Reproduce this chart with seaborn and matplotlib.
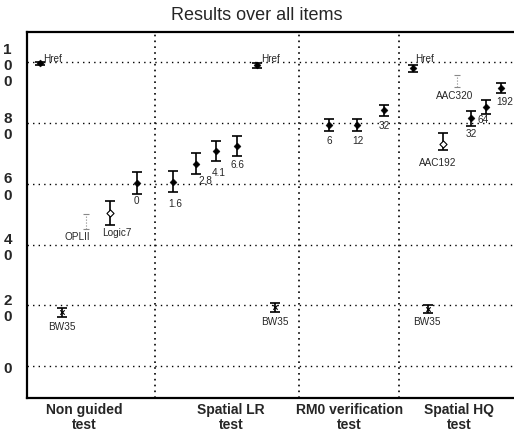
import matplotlib
matplotlib.use("Agg")
import matplotlib.pyplot as plt
import pandas as pd
import seaborn as sns

# values
labels = ["Href", "BW35", "OPLII", "Logic7", "0",
          "1.6", "2.8", "4.1", "6.6", "Href", "BW35",
          "6", "12", "32",
          "Href", "BW35", "AAC192", "AAC320", "32", "64", "192"]
position = [1.3, 3.5, 5.9, 8.3, 11.0,
            14.6, 16.9, 18.9, 21.0, 23.0, 24.8,
            30.2, 33.0, 35.7,
            38.6, 40.1, 41.6, 43.0, 44.4, 45.9, 47.4]
score = [99.7, 17.7, 47.5, 50.5, 60.3,
         60.7, 66.6, 70.8, 72.5, 99.0, 19.3,
         79.3, 79.3, 84.3,
         98.0, 18.7, 73.0, 93.8, 81.6, 85.2, 91.5]
err_low = [0.5, 1.5, 2.5, 4.0, 3.5,
           3.5, 3.5, 3.3, 3.2, 0.7, 1.5,
           2.0, 2.0, 1.8,
           1.0, 1.3, 2.0, 2.0, 2.5, 2.3, 1.7]
err_high = [0.5, 1.5, 2.5, 4.0, 3.5,
            3.5, 3.5, 3.3, 3.2, 0.7, 1.5,
            2.0, 2.0, 1.8,
            1.0, 1.3, 3.6, 2.0, 2.5, 2.3, 1.7]
kind = ["filled", "bw", "faint", "open", "filled",
        "filled", "filled", "filled", "filled", "filled", "bw",
        "filled", "filled", "filled",
        "filled", "bw", "open", "faint", "filled", "filled", "filled"]
groups = ["Non guided\ntest", "Spatial LR\ntest", "RM0 verification\ntest", "Spatial HQ\ntest"]
group_bounds = [0, 12.8, 27.2, 37.2, 48.7]
yticks = [0, 20, 40, 60, 80, 100]

# label offsets in pixels (dx, dy) - layout only
label_off = [(12, 5), (0, -14), (-9, -14), (7, -19), (-1, -17),
             (2, -21), (9, -16), (3, -21), (0, -18), (13, 7), (0, -14),
             (0, -15), (1, -15), (0, -15),
             (12, 10), (-1, -12), (-5, -18), (-2, -14), (0, -15), (-3, -12), (4, -13)]

df = pd.DataFrame({"label": labels, "x": position, "score": score,
                   "lo": err_low, "hi": err_high, "kind": kind})

sns.set_style("white")
plt.rcParams["font.family"] = ["Liberation Sans", "DejaVu Sans"]

fig = plt.figure(figsize=(5.14, 4.35), dpi=100)
ax = fig.add_axes([0.053, 0.083, 0.947, 0.841])

# grid
for y in yticks:
    ax.axhline(y, color="black", lw=1.0, ls=(0, (1, 3)), zorder=0)
for b in group_bounds[1:-1]:
    ax.axvline(b, color="black", lw=1.2, ls=(0, (1, 2.5)), zorder=0)

# error bars
for k, d in df.groupby("kind"):
    if k == "faint":
        c, lw, ls, cap = "#888888", 0.8, ":", 2.5
    else:
        c, lw, ls, cap = "black", 1.2, "-", 3.5
    eb = ax.errorbar(d["x"], d["score"], yerr=[d["lo"], d["hi"]], fmt="none",
                     ecolor=c, elinewidth=lw, capsize=cap, capthick=lw, zorder=2)
    for line in eb[2]:
        line.set_linestyle(ls)

# markers
sns.scatterplot(data=df[df.kind == "filled"], x="x", y="score", marker="D", s=13,
                color="black", edgecolor="black", ax=ax, zorder=3, legend=False)
sns.scatterplot(data=df[df.kind == "open"], x="x", y="score", marker="D", s=13,
                facecolor="white", edgecolor="black", linewidth=0.8, ax=ax, zorder=3, legend=False)
sns.scatterplot(data=df[df.kind == "bw"], x="x", y="score", marker="x", s=10,
                color="black", linewidth=0.8, ax=ax, zorder=3, legend=False)

for (lab, x, y), (dx, dy) in zip(zip(labels, position, score), label_off):
    ax.annotate(lab, (x, y), xytext=(dx, dy), textcoords="offset pixels",
                ha="center", va="center", fontsize=7.2)

ax.set_xlim(group_bounds[0], group_bounds[-1])
ax.set_ylim(-10.5, 110)
ax.set_yticks(yticks)
ax.set_yticklabels(["\n".join(str(v)) for v in yticks], fontsize=11,
                   fontweight="bold", linespacing=1.2)
centers = [5.7, 20.4, 32.2, 43.2]
ax.set_xticks(group_bounds[1:-1], minor=True)
ax.set_xticks(centers)
ax.set_xticklabels(groups, fontsize=10, fontweight="bold", linespacing=1.1)
ax.tick_params(axis="x", which="major", length=0, pad=3)
ax.tick_params(axis="x", which="minor", length=4, direction="in", width=1)
ax.tick_params(axis="y", length=4, direction="in", width=1, pad=11)
ax.set_xlabel("")
ax.set_ylabel("")

for side in ["left", "top", "bottom"]:
    ax.spines[side].set_linewidth(1.6)
    ax.spines[side].set_color("black")
ax.spines["right"].set_visible(False)

fig.suptitle("Results over all items", fontsize=13, y=0.985)

fig.savefig("out.png", dpi=100)
